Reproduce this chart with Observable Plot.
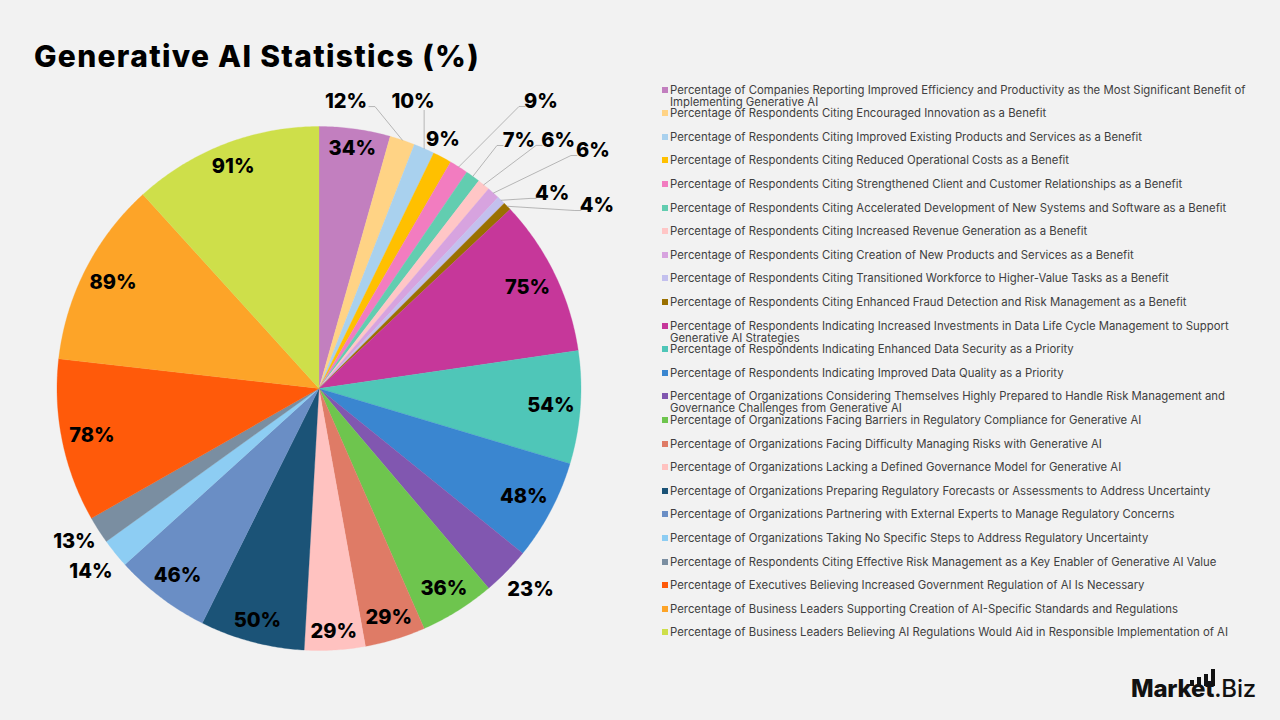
<!DOCTYPE html>
<html>
<head>
<meta charset="utf-8">
<script src="https://cdn.jsdelivr.net/npm/d3@7"></script>
<script src="https://cdn.jsdelivr.net/npm/@observablehq/plot@0.6"></script>
<style>
  html, body { margin: 0; padding: 0; background: #f2f2f2; }
  #page { position: relative; width: 1280px; height: 720px; background: #f2f2f2; overflow: hidden; font-family: Inter, "Open Sans", sans-serif; }
  #title { position: absolute; left: 34px; top: 38px; font-size: 30px; font-weight: 800; color: #000; white-space: nowrap; letter-spacing: 1.3px; }
  #chart { position: absolute; left: 0; top: 80px; }
  #legend { position: absolute; left: 0; top: 0; width: 1280px; height: 720px; pointer-events: none; }
  .item { position: absolute; left: 662px; width: 605px; font-size: 11.35px; line-height: 12px; color: #404040; }
  .item .sw { position: absolute; left: 0; top: 3px; width: 6px; height: 6px; }
  .item .tx { display: block; margin-left: 8px; }
  #logo { position: absolute; left: 1131px; top: 674px; font-size: 24px; color: #111; white-space: nowrap; letter-spacing: -0.2px; }
  #logo b { font-weight: 800; }
  #logo span.biz { font-weight: 500; }
  .bar { position: absolute; background: #111; width: 4px; }
</style>
</head>
<body>
<div id="page">
  <div id="title">Generative AI Statistics (%)</div>
  <div id="chart"></div>
  <div id="legend"></div>
  <div id="logo"><b>Market</b><span class="biz">.Biz</span></div>
</div>
<script>
// Category names (legend order = slice order, clockwise from 12 o'clock)
const categories = [
  "Percentage of Companies Reporting Improved Efficiency and Productivity as the Most Significant Benefit of Implementing Generative AI",
  "Percentage of Respondents Citing Encouraged Innovation as a Benefit",
  "Percentage of Respondents Citing Improved Existing Products and Services as a Benefit",
  "Percentage of Respondents Citing Reduced Operational Costs as a Benefit",
  "Percentage of Respondents Citing Strengthened Client and Customer Relationships as a Benefit",
  "Percentage of Respondents Citing Accelerated Development of New Systems and Software as a Benefit",
  "Percentage of Respondents Citing Increased Revenue Generation as a Benefit",
  "Percentage of Respondents Citing Creation of New Products and Services as a Benefit",
  "Percentage of Respondents Citing Transitioned Workforce to Higher-Value Tasks as a Benefit",
  "Percentage of Respondents Citing Enhanced Fraud Detection and Risk Management as a Benefit",
  "Percentage of Respondents Indicating Increased Investments in Data Life Cycle Management to Support Generative AI Strategies",
  "Percentage of Respondents Indicating Enhanced Data Security as a Priority",
  "Percentage of Respondents Indicating Improved Data Quality as a Priority",
  "Percentage of Organizations Considering Themselves Highly Prepared to Handle Risk Management and Governance Challenges from Generative AI",
  "Percentage of Organizations Facing Barriers in Regulatory Compliance for Generative AI",
  "Percentage of Organizations Facing Difficulty Managing Risks with Generative AI",
  "Percentage of Organizations Lacking a Defined Governance Model for Generative AI",
  "Percentage of Organizations Preparing Regulatory Forecasts or Assessments to Address Uncertainty",
  "Percentage of Organizations Partnering with External Experts to Manage Regulatory Concerns",
  "Percentage of Organizations Taking No Specific Steps to Address Regulatory Uncertainty",
  "Percentage of Respondents Citing Effective Risk Management as a Key Enabler of Generative AI Value",
  "Percentage of Executives Believing Increased Government Regulation of AI Is Necessary",
  "Percentage of Business Leaders Supporting Creation of AI-Specific Standards and Regulations",
  "Percentage of Business Leaders Believing AI Regulations Would Aid in Responsible Implementation of AI"
];

// Percentages for each category
const values = [34, 12, 10, 9, 9, 7, 6, 6, 4, 4, 75, 54, 48, 23, 36, 29, 29, 50, 46, 14, 13, 78, 89, 91];

// Slice colours
const colors = [
  "#c27fbf", "#ffd385", "#a9d1ee", "#ffc000", "#f27cc0", "#62cdb0",
  "#ffc6c6", "#d7a3df", "#c3c0ee", "#9a7000", "#c6379a", "#4fc6b8",
  "#3a86d0", "#8157b0", "#6ec54e", "#df7b66", "#ffc2c0", "#1b5377",
  "#6a8ec5", "#8dcdf3", "#7a8ea1", "#ff5a0a", "#fda428", "#cedf4a"
];

// Labels that sit outside the pie: slice index -> [angle in degrees, radius in pie radii]
const outsidePlacement = new Map([
  [1, [5.37, 1.100]], [2, [18.13, 1.153]], [3, [26.47, 1.062]], [4, [37.72, 1.385]],
  [5, [38.88, 1.216]], [6, [43.94, 1.315]], [7, [49.02, 1.385]], [8, [50.07, 1.160]],
  [9, [56.64, 1.270]], [13, [133.6, 1.115]], [19, [231.2, 1.117]], [20, [237.9, 1.102]]
]);
// Outside labels that get a leader line back to their slice
const withLeader = new Set([1, 2, 4, 5, 6, 7, 8, 9]);

// Geometry of the pie inside the SVG (pixels)
const W = 640, H = 620, CX = 318.5, CY = 308, R = 262;
const px = 1 / R; // one pixel in pie units

const fmt = v => `${v}%`;
const arcs = d3.pie().sort(null).value(d => d)(values);

// Polygon outline for each slice: centre, arc points, centre
const slicePts = arcs.flatMap((a, i) => {
  const span = a.endAngle - a.startAngle;
  const n = Math.max(2, Math.ceil(span / (Math.PI / 360)));
  const pts = [{i, x: 0, y: 0}];
  for (let k = 0; k <= n; k++) {
    const t = a.startAngle + span * k / n;
    pts.push({i, x: Math.sin(t), y: -Math.cos(t)});
  }
  pts.push({i, x: 0, y: 0});
  return pts.map(p => ({...p, name: categories[i]}));
});

// Value labels
const labelHW = s => (s.length === 2 ? 13 : 20); // half width, px
const labelHH = 8;                                // half height, px
const labels = arcs.map((a, i) => {
  const text = fmt(values[i]);
  if (outsidePlacement.has(i)) {
    const [deg, rf] = outsidePlacement.get(i);
    const t = deg * Math.PI / 180;
    return {i, text, x: rf * Math.sin(t), y: -rf * Math.cos(t), outside: true};
  }
  const t = (a.startAngle + a.endAngle) / 2;
  const s = Math.sin(t), c = Math.cos(t);
  const r = (R - 9 - labelHW(text) * Math.abs(s) - labelHH * Math.abs(c)) / R;
  return {i, text, x: r * s, y: -r * c, outside: false};
});

// Leader lines: label side -> short horizontal run -> slice edge
const leaders = labels.filter(d => withLeader.has(d.i)).flatMap(d => {
  const a = arcs[d.i];
  const t = (a.startAngle + a.endAngle) / 2;
  const ex = Math.sin(t), ey = -Math.cos(t);
  const hw = labelHW(d.text);
  const dxp = (ex - d.x) * R;
  if (Math.abs(dxp) < hw) {
    return [{i: d.i, x: ex, y: d.y + 9 * px}, {i: d.i, x: ex, y: ey}];
  }
  const side = Math.sign(dxp);
  const sx = d.x + side * (hw + 3) * px, sy = d.y + 5 * px;
  return [
    {i: d.i, x: sx, y: sy},
    {i: d.i, x: sx + side * 6 * px, y: sy},
    {i: d.i, x: ex, y: ey}
  ];
});

const chart = Plot.plot({
  width: W,
  height: H,
  margin: 0,
  x: {domain: [-1, 1], range: [CX - R, CX + R], axis: null},
  y: {domain: [-1, 1], range: [CY - R, CY + R], axis: null},
  color: {domain: categories, range: colors},
  style: {background: "transparent", overflow: "visible"},
  marks: [
    Plot.line(slicePts, {x: "x", y: "y", z: "name", fill: "name", stroke: "name", strokeWidth: 0.3}),
    Plot.line(leaders, {x: "x", y: "y", z: "i", stroke: "#a6a6a6", strokeWidth: 0.8}),
    Plot.text(labels, {
      x: "x", y: "y", text: "text",
      fontSize: 20, fontWeight: 800, fill: "#000",
      fontFamily: "Inter, sans-serif"
    })
  ]
});
document.getElementById("chart").appendChild(chart);

// Legend, one row per category
const legend = document.getElementById("legend");
categories.forEach((name, i) => {
  const row = document.createElement("div");
  row.className = "item";
  row.style.top = (83.5 + i * 23.6) + "px";
  const sw = document.createElement("span");
  sw.className = "sw";
  sw.style.background = colors[i];
  const tx = document.createElement("span");
  tx.className = "tx";
  tx.textContent = name;
  row.appendChild(sw);
  row.appendChild(tx);
  legend.appendChild(row);
});

// Bars of the wordmark
const page = document.getElementById("page");
[[1190, 680, 6], [1197, 677, 9], [1204, 674, 12], [1211, 669, 17]].forEach(([l, t, h]) => {
  const b = document.createElement("div");
  b.className = "bar";
  b.style.left = l + "px";
  b.style.top = t + "px";
  b.style.height = h + "px";
  page.appendChild(b);
});
</script>
</body>
</html>
